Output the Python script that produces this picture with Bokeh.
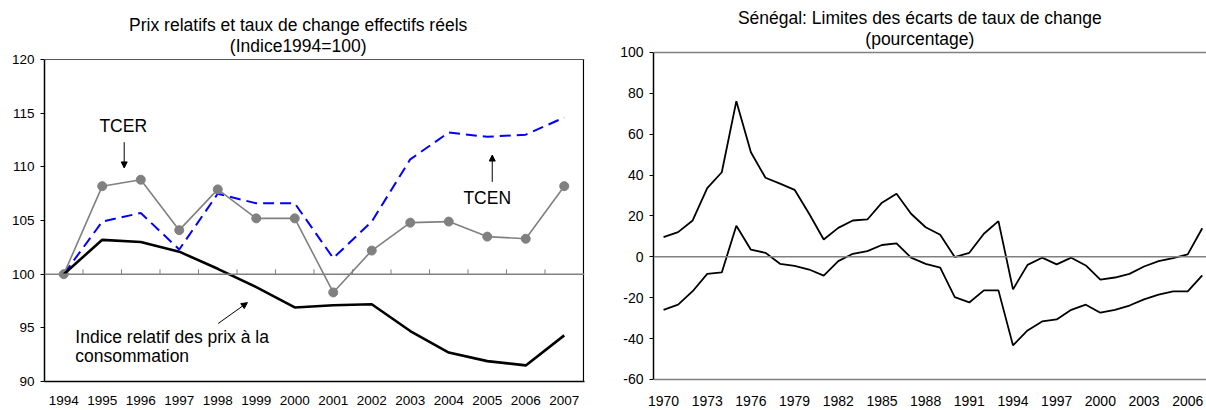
from bokeh.plotting import figure
from bokeh.layouts import row
from bokeh.models import FixedTicker, Span, Label, Arrow, NormalHead, Range1d
from bokeh.embed import file_html
from bokeh.resources import INLINE

# ---------------- data: left chart ----------------
years_left = [1994, 1995, 1996, 1997, 1998, 1999, 2000, 2001, 2002, 2003, 2004, 2005, 2006, 2007]
tcer = [100.0, 108.2, 108.8, 104.1, 107.9, 105.2, 105.2, 98.3, 102.2, 104.8, 104.9, 103.5, 103.3, 108.2]
tcen = [100.0, 104.9, 105.7, 102.3, 107.5, 106.6, 106.6, 101.5, 104.9, 110.7, 113.2, 112.8, 113.0, 114.6]
ipc = [100.0, 103.2, 103.0, 102.1, 100.5, 98.8, 96.9, 97.1, 97.2, 94.7, 92.7, 91.9, 91.5, 94.3]
left_yticks = [90, 95, 100, 105, 110, 115, 120]

# ---------------- data: right chart ----------------
years_right = list(range(1970, 2008))
upper = [9.7, 12.1, 17.8, 33.6, 41.4, 76.2, 51.2, 38.7, 35.8, 32.8,
         21.1, 8.5, 14.2, 17.8, 18.3, 26.5, 30.9, 21.1, 14.5, 10.8,
         -0.1, 2.0, 11.3, 17.5, -15.9, -3.9, -0.4, -3.7, -0.4, -4.2,
         -11.1, -10.1, -8.3, -4.7, -2.1, -0.6, 1.2, 14.0]
lower = [-25.9, -23.4, -16.8, -8.3, -7.6, 15.2, 3.5, 2.0, -3.4, -4.4,
         -6.2, -9.2, -2.1, 1.5, 2.8, 5.8, 6.6, -0.4, -3.4, -5.3,
         -19.7, -22.3, -16.4, -16.4, -43.3, -36.0, -31.6, -30.6, -25.9, -23.4,
         -27.3, -25.9, -23.8, -20.8, -18.5, -16.9, -16.9, -9.1]
right_yticks = [-60, -40, -20, 0, 20, 40, 60, 80, 100]
right_xticks = years_right[:-1:3]

FONT = "Liberation Sans"
ANN = "17.5px"


def style_axes(p, tick_size):
    p.title = None
    p.grid.visible = False
    p.background_fill_color = "white"
    p.border_fill_color = "white"
    p.outline_line_color = None
    for ax in (p.xaxis, p.yaxis):
        ax.major_label_text_font = FONT
        ax.major_label_text_font_size = tick_size
        ax.major_label_text_color = "black"
        ax.minor_tick_line_color = None
        ax.minor_tick_in = 0
        ax.minor_tick_out = 0
    p.xaxis.major_tick_line_color = None
    p.xaxis.major_tick_in = 0
    p.xaxis.major_tick_out = 0
    p.xaxis.major_label_standoff = 14
    p.yaxis.major_tick_in = 0
    p.yaxis.major_tick_out = 4
    p.yaxis.major_tick_line_color = "black"
    p.yaxis.major_label_standoff = 6
    p.yaxis.axis_line_color = "black"
    p.yaxis.axis_line_width = 1.5


def lbl(p, x, y, text, align="center"):
    p.add_layout(Label(x=x, y=y, text=text, text_align=align, text_baseline="middle",
                       text_font=FONT, text_font_size=ANN, text_color="black"))


def head():
    return NormalHead(size=6, fill_color="black", line_color="black", line_width=1)


# ================= LEFT CHART =================
n = len(years_left)
xs = list(range(n))
p1 = figure(width=600, height=410, output_backend="svg", toolbar_location=None,
            x_range=Range1d(-0.5, n - 0.5 + 0.026), y_range=Range1d(90, 125.5),
            min_border_left=44, min_border_right=16, min_border_top=0, min_border_bottom=29)
style_axes(p1, "13.5px")
p1.xaxis.ticker = FixedTicker(ticks=xs)
p1.xaxis.major_label_overrides = {i: str(y) for i, y in enumerate(years_left)}
p1.xaxis.axis_line_color = "black"
p1.xaxis.axis_line_width = 1.5
p1.yaxis.ticker = FixedTicker(ticks=left_yticks)
p1.yaxis.bounds = (left_yticks[0], left_yticks[-1])

# plot-area box (top and right edges)
p1.add_layout(Span(location=left_yticks[-1], dimension="width", line_color="#555555", line_width=1))
p1.segment(x0=[n - 0.5], y0=[left_yticks[0]], x1=[n - 0.5], y1=[left_yticks[-1]],
           line_color="black", line_width=1.2)

p1.add_layout(Span(location=100, dimension="width", line_color="#808080", line_width=1.5))
bounds = [i + 0.5 for i in range(n - 1)]
p1.segment(x0=bounds, y0=[100] * len(bounds), x1=bounds, y1=[100.45] * len(bounds),
           line_color="#808080", line_width=1)

p1.line(xs, tcen, line_color="#0000FF", line_width=2, line_dash="11 6")
p1.line(xs, tcer, line_color="#808080", line_width=1.6)
p1.scatter(xs, tcer, size=9, fill_color="#808080", line_color="#808080")
p1.line(xs, ipc, line_color="black", line_width=2.6)

lbl(p1, 6.09, 123.25, "Prix relatifs et taux de change effectifs réels")
lbl(p1, 6.09, 121.3, "(Indice1994=100)")
lbl(p1, 1.545, 113.8, "TCER")
lbl(p1, 11.0, 107.1, "TCEN")
lbl(p1, 0.3, 94.19, "Indice relatif des prix à la", "left")
lbl(p1, 0.3, 92.33, "consommation", "left")

p1.add_layout(Arrow(end=head(), x_start=1.57, y_start=112.3, x_end=1.57, y_end=109.9,
                    line_color="black", line_width=1))
p1.add_layout(Arrow(end=head(), x_start=11.13, y_start=108.6, x_end=11.13, y_end=111.1,
                    line_color="black", line_width=1))
p1.add_layout(Arrow(end=head(), x_start=4.01, y_start=95.4, x_end=4.77, y_end=97.35,
                    line_color="black", line_width=1))

# ================= RIGHT CHART =================
p2 = figure(width=606, height=410, output_backend="svg", toolbar_location=None,
            x_range=Range1d(1969.31, 2007.29), y_range=Range1d(-60.98, 125.44),
            min_border_left=53, min_border_right=0, min_border_top=0, min_border_bottom=29)
style_axes(p2, "14px")
p2.xaxis.ticker = FixedTicker(ticks=right_xticks)
p2.xaxis.axis_line_color = None
p2.yaxis.ticker = FixedTicker(ticks=right_yticks)
p2.yaxis.major_label_overrides = {v: str(v) for v in right_yticks}
p2.yaxis.bounds = (right_yticks[0], right_yticks[-1])

p2.add_layout(Span(location=right_yticks[-1], dimension="width", line_color="#808080", line_width=1.5))
p2.add_layout(Span(location=right_yticks[0], dimension="width", line_color="#808080", line_width=1.5))
p2.add_layout(Span(location=0, dimension="width", line_color="#808080", line_width=1.5))

p2.line(years_right, upper, line_color="black", line_width=1.8)
p2.line(years_right, lower, line_color="black", line_width=1.8)

lbl(p2, 1987.6, 117.1, "Sénégal: Limites des écarts de taux de change")
lbl(p2, 1987.6, 106.4, "(pourcentage)")

layout = row(p1, p2)
open("out.html", "w").write(file_html(layout, INLINE))
